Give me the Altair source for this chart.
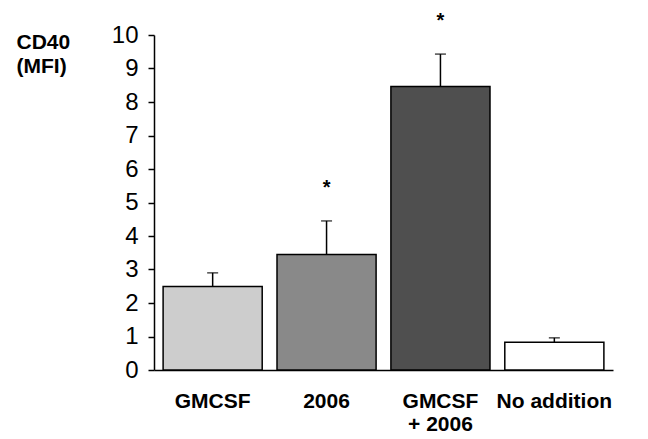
import altair as alt
import pandas as pd

categories = ["GMCSF", "2006", "GMCSF\n+ 2006", "No addition"]
values = [2.49, 3.45, 8.46, 0.83]
errors = [0.41, 1.0, 0.97, 0.13]
colors = ["#cdcdcd", "#898989", "#4f4f4f", "#ffffff"]
stars = ["", "*", "*", ""]
y_ticks = [0, 1, 2, 3, 4, 5, 6, 7, 8, 9, 10]

df = pd.DataFrame({
    "cat": categories,
    "val": values,
    "upper": [v + e for v, e in zip(values, errors)],
    "star_y": [v + e + 1.1 for v, e in zip(values, errors)],
    "star": stars,
    "color": colors,
})

x_axis = alt.Axis(labelAngle=0, ticks=False, domainColor="black", domainWidth=1.5,
                  labelFont="Liberation Sans", labelFontSize=21, labelFontWeight="bold",
                  labelColor="black", labelPadding=20, labelLineHeight=23,
                  labelExpr="split(datum.label, '\\n')", labelBaseline="top")
x_scale = alt.Scale(paddingInner=0.13, paddingOuter=0.08)

y_axis = alt.Axis(values=y_ticks, grid=False, tickSize=6, tickColor="black",
                  tickWidth=1.5, domainColor="black", domainWidth=1.5,
                  labelFont="Liberation Sans", labelFontSize=24, labelColor="black",
                  labelPadding=10, labelOverlap=False,
                  titleAngle=0, titleAlign="left", titleBaseline="top",
                  titleX=-138, titleY=-4, titleFont="Liberation Sans",
                  titleFontSize=21, titleFontWeight="bold", titleColor="black",
                  titleLineHeight=24)
y_scale = alt.Scale(domain=[0, 10])
y_title = ["CD40", "(MFI)"]


def X():
    return alt.X("cat:N", sort=categories, title=None, scale=x_scale, axis=x_axis)


def Y(field):
    return alt.Y(field, scale=y_scale, title=y_title, axis=y_axis)


base = alt.Chart(df)

bars = base.mark_bar(stroke="black", strokeWidth=1.5).encode(
    x=X(), y=Y("val:Q"), fill=alt.Fill("color:N", scale=None))

err = base.mark_rule(color="black", strokeWidth=1.5).encode(
    x=X(), y=Y("val:Q"), y2="upper:Q")

cap = base.mark_tick(color="black", thickness=1.5, size=11).encode(
    x=X(), y=Y("upper:Q"))

star = base.mark_text(font="Liberation Sans", fontSize=20, fontWeight="bold",
                      baseline="middle", dy=4, color="black").encode(
    x=X(), y=Y("star_y:Q"), text="star:N")

chart = alt.layer(bars, err, cap, star).properties(
    width=459, height=335,
    autosize=alt.AutoSizeParams(type="none"),
    padding={"left": 146, "top": 27, "right": 20, "bottom": 76},
).configure(background="white", view=alt.ViewConfig(stroke=None))

chart.save("out.html", embed_options={"renderer": "svg", "actions": False})
